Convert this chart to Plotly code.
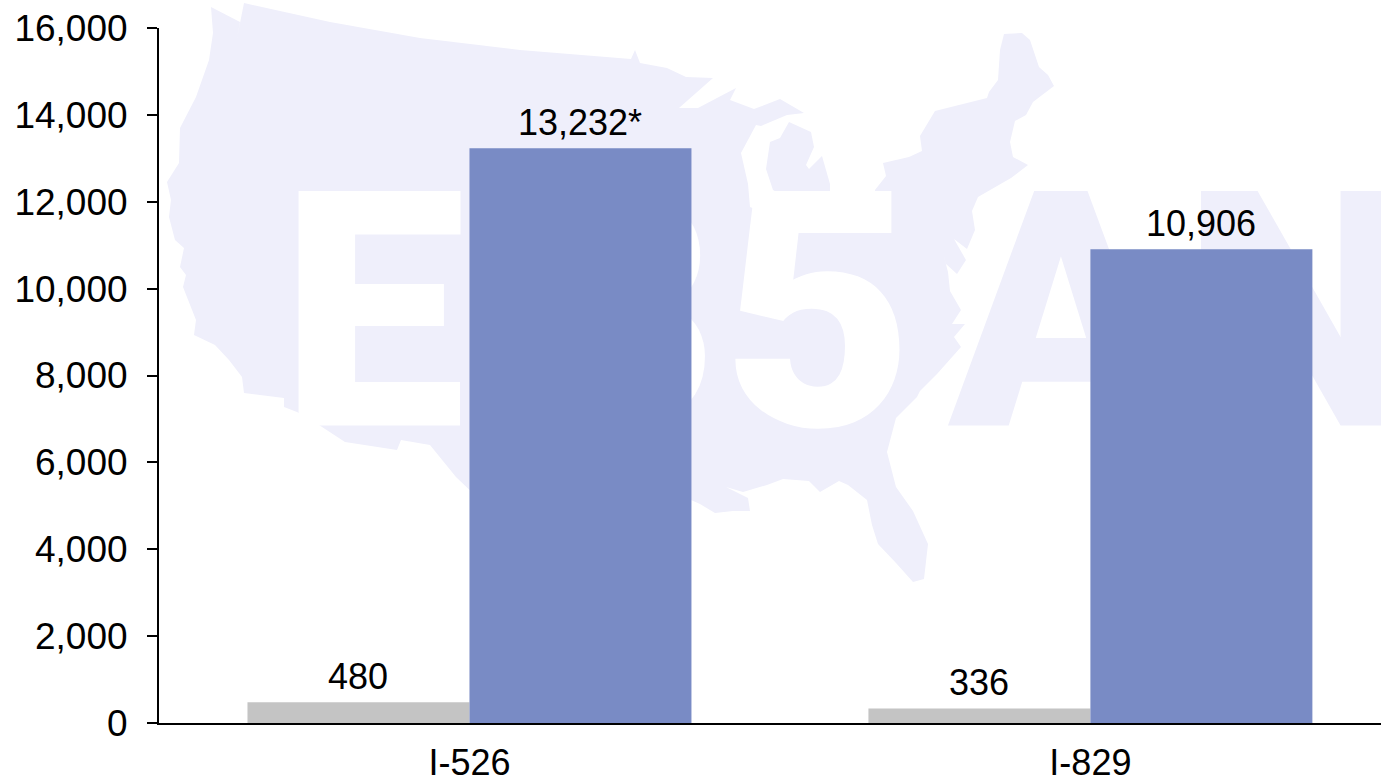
import plotly.graph_objects as go

# ---- data ----
categories = ["I-526", "I-829"]
grey_values = [480, 336]
blue_values = [13232, 10906]
grey_labels = ["480", "336"]
blue_labels = ["13,232*", "10,906"]
y_tick_values = [0, 2000, 4000, 6000, 8000, 10000, 12000, 14000, 16000]
y_tick_labels = ["0", "2,000", "4,000", "6,000", "8,000", "10,000", "12,000", "14,000", "16,000"]

# ---- layout constants ----
W, H = 1381, 779
L, T, B = 159, 28, 56
PW, PH = W - L, H - T - B
FONT = "Liberation Sans, Arial, sans-serif"
LAV = "#EFEFFB"
BLUE = "#798BC5"
GREY = "#C4C4C4"
INK = "#000000"
BARGAP = 0.285
BAR_WIDTH = (1 - BARGAP) / 2

# ---- decorative background watermark (not data), page pixel outline ----
outline = [
    (211,7),(240,22),(237,38),(244,3),(330,22),(420,38),(520,50),(631,59),(635,50),(640,63),
    (667,68),(686,77),(713,78),(679,108),(698,108),(736,88),(730,100),(754,109),(780,99),
    (804,113),(787,115),(761,126),(756,125),(741,153),(748,184),(750,207),(770,215),(800,205),
    (773,190),(766,169),(770,142),(780,138),(789,122),(811,132),(814,147),(806,165),(809,169),
    (822,156),(830,184),(830,200),(875,200),(875,190),(886,176),(883,163),(909,157),(922,151),
    (920,136),(935,111),(987,98),(989,92),(998,80),(1000,50),(1004,34),(1022,33),(1030,40),
    (1039,67),(1048,75),(1054,86),(1033,102),(1026,115),(1015,121),(1010,142),(1013,157),
    (1028,165),(1011,178),(978,197),(972,211),(975,230),(967,249),(954,239),(966,260),(957,274),
    (946,264),(941,245),(948,272),(950,291),(961,310),(952,324),(965,324),(954,337),(961,347),
    (937,374),(920,391),(917,397),(896,418),(887,452),(896,487),(913,511),(928,544),(924,579),
    (913,582),(896,563),(878,544),(872,525),(867,500),(848,485),(839,481),(820,492),(809,481),
    (783,479),(767,485),(743,492),(726,487),(748,498),(750,511),(733,511),(715,513),(700,504),
    (691,500),(600,560),(530,570),(480,500),(456,477),(430,445),(401,440),(397,450),(345,442),
    (319,425),(297,412),(284,407),(284,398),(244,393),(242,377),(229,360),(215,345),(194,335),
    (196,320),(183,287),(186,275),(180,267),(184,248),(175,240),(169,217),(171,200),(167,182),
    (179,163),(180,128),(196,97),(209,60),(213,33),
]
def to_paper(px, py):
    return (px - L) / PW, (H - B - py) / PH
path = "M " + " L ".join("{:.5f},{:.5f}".format(*to_paper(x, y)) for x, y in outline) + " Z"

wm_letters = ["E", "B", "5", "A", "N"]
wm_x = [373, 612, 818, 1061, 1299]
wm_y = [343, 343, 343, 343, 343]
wm_colors = ["#FFFFFF", "#FFFFFF", "#FFFFFF", LAV, LAV]

fig = go.Figure()

# watermark letters on a hidden pixel-scaled base subplot, beneath the bars
fig.add_trace(go.Scatter(
    x=wm_x, y=wm_y, text=wm_letters, mode="text", cliponaxis=False,
    textposition="middle center",
    textfont=dict(family="Roboto", size=330, color=wm_colors, weight=900),
    hoverinfo="skip", showlegend=False, xaxis="x", yaxis="y",
))

fig.add_trace(go.Bar(
    x=categories, y=grey_values, name="Series 1",
    marker=dict(color=GREY, line=dict(width=0)), xaxis="x2", yaxis="y2",
))
fig.add_trace(go.Bar(
    x=categories, y=blue_values, name="Series 2",
    marker=dict(color=BLUE, line=dict(width=0)), xaxis="x2", yaxis="y2",
))

# value labels, placed through the value axis at each bar's top
annotations = []
for i in range(len(categories)):
    for value, label, side in ((grey_values[i], grey_labels[i], -1), (blue_values[i], blue_labels[i], 1)):
        annotations.append(dict(
            xref="x2", yref="y2", x=i + side * BAR_WIDTH / 2, y=value, text=label,
            showarrow=False, xanchor="center", yanchor="bottom", yshift=3,
            font=dict(family=FONT, size=36, color=INK),
        ))

fig.update_layout(
    width=W, height=H, autosize=False,
    margin=dict(l=L, r=0, t=T, b=B, pad=0, autoexpand=False),
    paper_bgcolor="#FFFFFF", plot_bgcolor="rgba(0,0,0,0)",
    showlegend=False, barmode="group", bargap=BARGAP, bargroupgap=0,
    font=dict(family=FONT, size=36, color=INK),
    annotations=annotations,
    shapes=[dict(type="path", xref="paper", yref="paper", path=path,
                 fillcolor=LAV, line=dict(width=0), layer="below")],
    xaxis=dict(visible=False, range=[L, W], fixedrange=True, automargin=False),
    yaxis=dict(visible=False, range=[H - B, T], fixedrange=True, automargin=False),
    xaxis2=dict(overlaying="x", anchor="y2", type="category", range=[-0.5, 1.468],
                showline=True, linecolor=INK, linewidth=2, ticks="", showgrid=False,
                zeroline=False, ticklabelstandoff=7, automargin=False,
                tickfont=dict(family=FONT, size=36, color=INK)),
    yaxis2=dict(overlaying="y", anchor="x2", side="left", range=[0, 16000],
                tickmode="array", tickvals=y_tick_values, ticktext=y_tick_labels,
                showline=True, linecolor=INK, linewidth=2, ticks="outside", ticklen=10,
                tickwidth=2, tickcolor=INK, showgrid=False, zeroline=False,
                ticklabelstandoff=12, automargin=False,
                tickfont=dict(family=FONT, size=37, color=INK)),
)

fig.write_html("out.html", config=dict(displayModeBar=False),
               post_script="document.body.style.margin='0';document.body.style.overflow='hidden';")
